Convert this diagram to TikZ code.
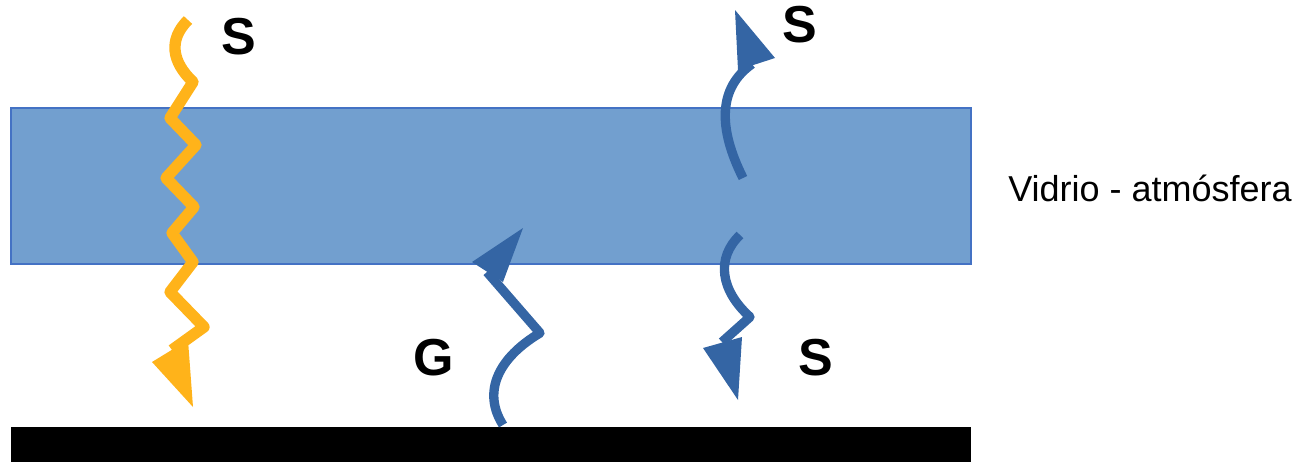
\documentclass[tikz,border=0pt]{standalone}
\usepackage{fontspec}
\setmainfont{Liberation Sans}
\definecolor{glass}{RGB}{114,159,207}
\definecolor{glassedge}{RGB}{68,114,196}
\definecolor{sunorange}{RGB}{255,179,26}
\definecolor{rayblue}{RGB}{52,101,164}
\begin{document}
\begin{tikzpicture}[x=0.75pt,y=-0.75pt,
  orangeray/.style={draw=sunorange,line width=8.5pt,line join=round},
  blueray/.style={draw=rayblue,line width=7pt,line join=round},
  biglabel/.style={font=\fontsize{39}{39}\selectfont\bfseries,inner sep=0pt},
  sidelabel/.style={font=\fontsize{27}{27}\selectfont,inner sep=0pt}]
\useasboundingbox (0,0) rectangle (1303,464);
% glass layer
\draw[fill=glass,draw=glassedge,line width=0.8pt] (11,108) rectangle (971,264);
% ground
\fill[black] (11,427) rectangle (971,462);
% orange solar ray
\draw[orangeray] (188,20) .. controls (168,40) and (172,62) .. (193,82)
  -- (170,118) -- (196,145) -- (166,178) -- (194,207) -- (172,233)
  -- (193,262) -- (170,292) -- (204,327) -- (172,350);
\fill[sunorange] (152,362) -- (188,340) -- (193,407) -- cycle;
% G ray
\draw[blueray] (503,425) .. controls (482,392) and (498,358) .. (540,333) -- (487,272);
\fill[rayblue] (472,262) -- (523,228) -- (503,282) -- cycle;
% upper right reflected ray
\draw[blueray] (743,178) .. controls (718,128) and (718,88) .. (752,64);
\fill[rayblue] (735,10) -- (775,58) -- (738,70) -- cycle;
% lower right transmitted ray
\draw[blueray] (740,235) .. controls (716,258) and (720,290) .. (750,317) -- (722,342);
\fill[rayblue] (703,348) -- (742,337) -- (738,400) -- cycle;
% labels
\node[biglabel] (s1) at (239,37) {S};
\node[biglabel] (s2) at (800,25) {S};
\node[biglabel] (s3) at (816,358) {S};
\node[biglabel] (g) at (434,358) {G};
\node[sidelabel] (glasslabel) at (1150,188) {Vidrio - atmósfera};
\end{tikzpicture}
\end{document}
